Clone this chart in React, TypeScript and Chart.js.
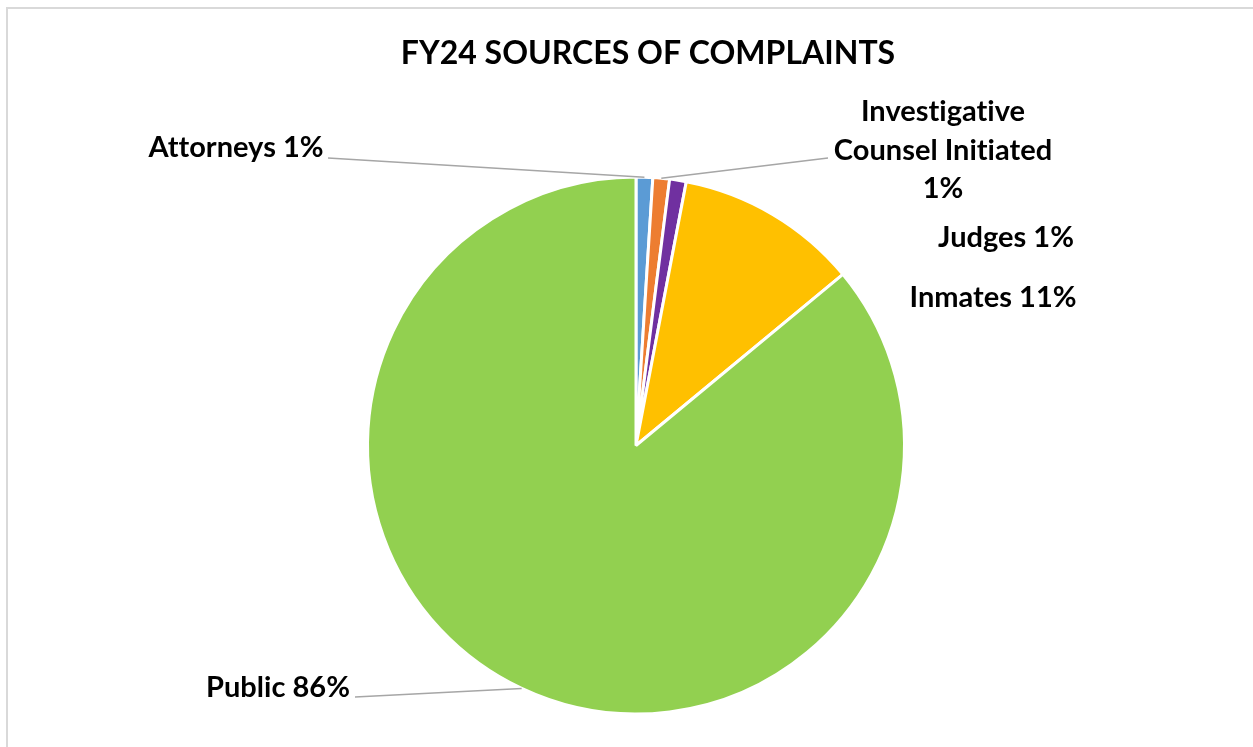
import React, { useEffect, useRef } from "react";
import { Chart, registerables } from "chart.js";

Chart.register(...registerables);

const TITLE = "FY24 SOURCES OF COMPLAINTS";
const categories = ["Attorneys", "Investigative Counsel Initiated", "Judges", "Inmates", "Public"];
const values = [1, 1, 1, 11, 86];
const colors = ["#5B9BD5", "#ED7D31", "#7030A0", "#FFC000", "#92D050"];
// label text lines per slice
const labelLines = [
  ["Attorneys 1%"],
  ["Investigative", "Counsel Initiated", "1%"],
  ["Judges 1%"],
  ["Inmates 11%"],
  ["Public 86%"],
];
// label layout: center x, first baseline y, and where leader line attaches (null = none)
const labelPos = [
  { x: 236, y: 157, lx: 328, ly: 158 },
  { x: 943, y: 121, lx: 828, ly: 158 },
  { x: 1006, y: 247, lx: null, ly: null },
  { x: 993, y: 307, lx: null, ly: null },
  { x: 278, y: 697, lx: 355, ly: 697 },
];

const FONT = "Lato, 'Open Sans', sans-serif";

const labelPlugin = {
  id: "pieLabels",
  afterDraw(chart: any) {
    const ctx = chart.ctx as any;
    const meta = chart.getDatasetMeta(0);
    ctx.save();
    // frame
    ctx.strokeStyle = "#D9D9D9";
    ctx.lineWidth = 2;
    ctx.strokeRect(7, 8, 1300, 800);
    // disable ligatures (Calibri-like look)
    if ("letterSpacing" in ctx) ctx.letterSpacing = "0.01px";
    // title
    ctx.fillStyle = "#000000";
    ctx.font = `bold 32px ${FONT}`;
    ctx.textAlign = "center";
    ctx.textBaseline = "alphabetic";
    ctx.fillText(TITLE, 648, 64);
    // labels
    ctx.font = `bold 29px ${FONT}`;
    meta.data.forEach((arc: any, i: number) => {
      const p = labelPos[i];
      if (p.lx !== null) {
        const mid = (arc.startAngle + arc.endAngle) / 2;
        const ex = arc.x + Math.cos(mid) * arc.outerRadius;
        const ey = arc.y + Math.sin(mid) * arc.outerRadius;
        ctx.strokeStyle = "#A6A6A6";
        ctx.lineWidth = 1.5;
        ctx.beginPath();
        ctx.moveTo(p.lx, p.ly as number);
        ctx.lineTo(ex, ey);
        ctx.stroke();
      }
      ctx.fillStyle = "#000000";
      labelLines[i].forEach((t, k) => {
        ctx.fillText(t, p.x, p.y + k * 38.5);
      });
    });
    ctx.restore();
  },
};

export default function App() {
  const ref = useRef<HTMLCanvasElement>(null);
  useEffect(() => {
    if (!ref.current) return;
    const chart = new Chart(ref.current, {
      type: "pie",
      data: {
        labels: categories,
        datasets: [
          {
            data: values,
            backgroundColor: colors,
            borderColor: "#FFFFFF",
            borderWidth: 3,
          },
        ],
      },
      options: {
        animation: false,
        responsive: false,
        maintainAspectRatio: false,
        layout: { padding: { top: 175, bottom: 31, left: 366, right: 347 } },
        plugins: {
          legend: { display: false },
          tooltip: { enabled: false },
          title: { display: false },
        },
      },
      plugins: [labelPlugin],
    });
    return () => chart.destroy();
  }, []);
  return (
    <div style={{ position: "fixed", left: 0, top: 0, width: 1253, height: 747, background: "#fff" }}>
      <canvas ref={ref} width={1253} height={747} style={{ width: 1253, height: 747 }} />
    </div>
  );
}
